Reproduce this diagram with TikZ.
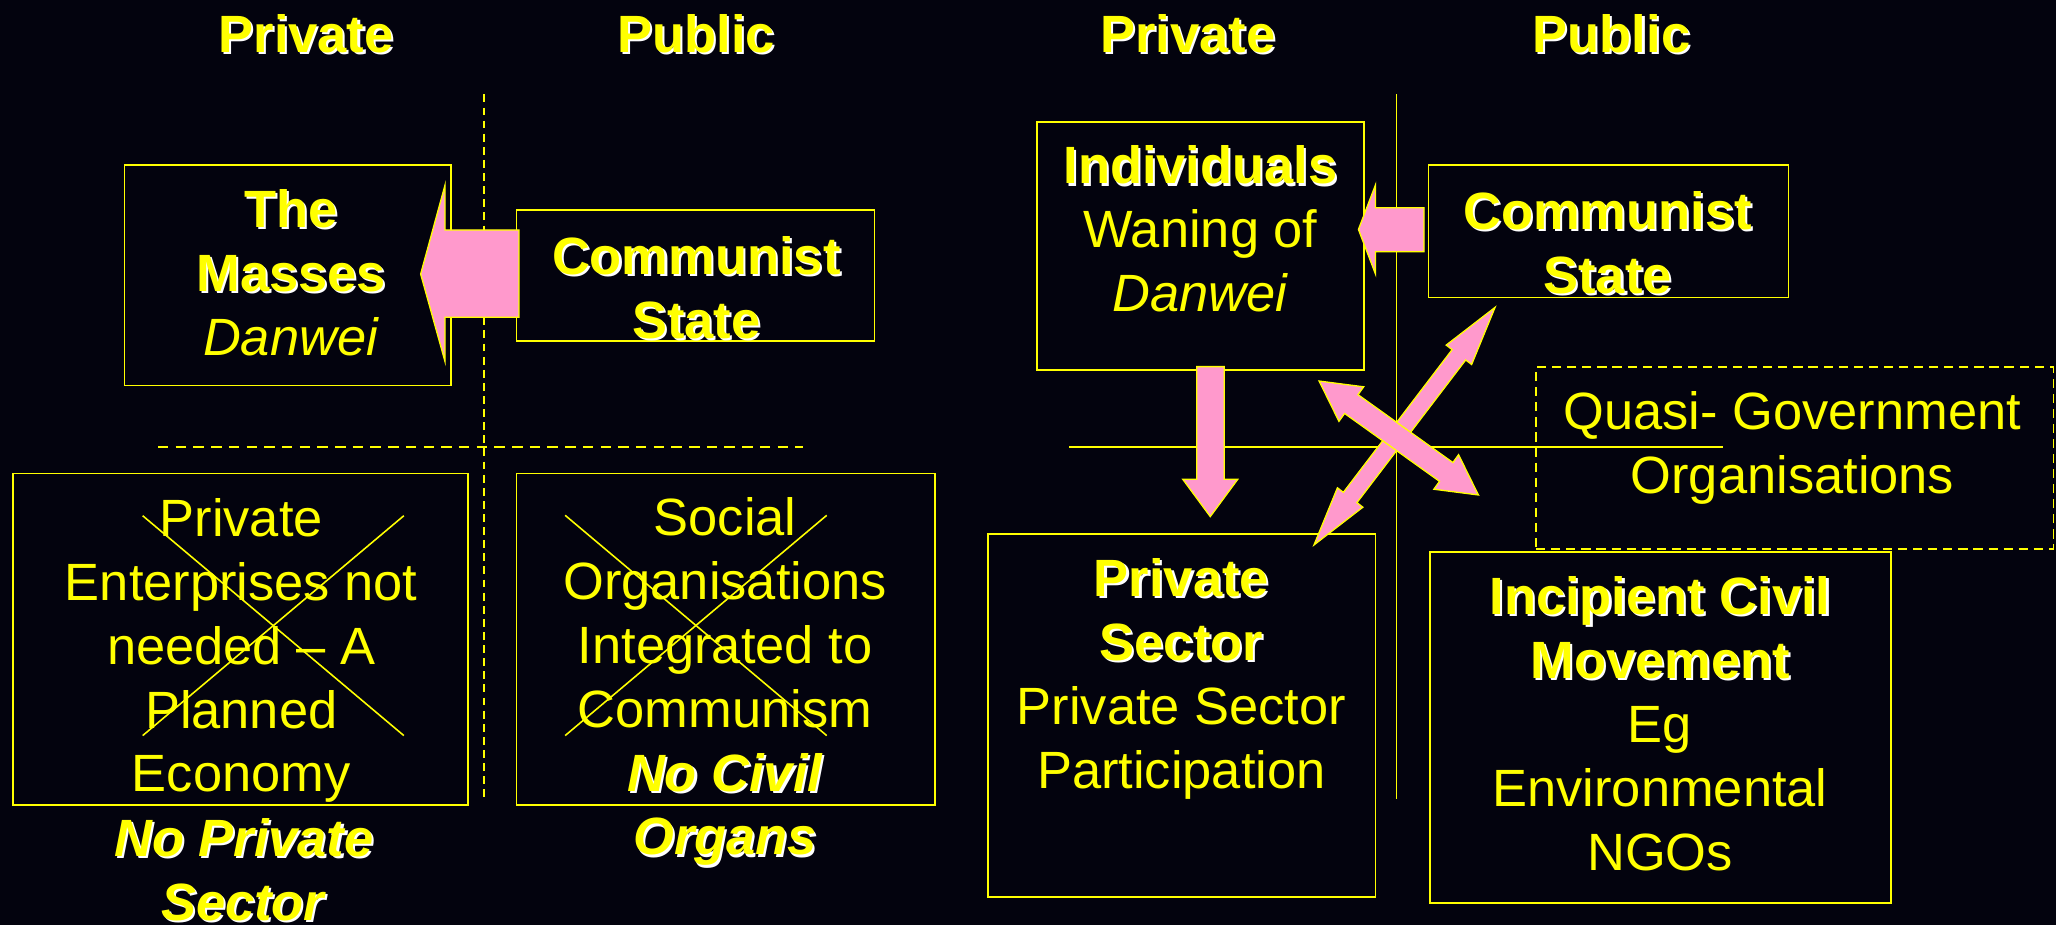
\documentclass[tikz,border=0pt]{standalone}
\usepackage{fontspec}
\setmainfont{Liberation Sans}
\usetikzlibrary{calc}
\definecolor{bg}{RGB}{3,3,14}
\definecolor{ylw}{RGB}{255,255,0}
\definecolor{pnk}{RGB}{255,153,204}
\newcommand\shd[1]{\leavevmode\rlap{\kern1.6pt\raisebox{-1.6pt}{\textcolor{white}{#1}}}#1}
\newcommand\bsh[1]{\shd{\textbf{#1}}}
\newcommand\bish[1]{\shd{\textbf{\textit{#1}}}}
% double-headed fat arrow: #1 start, #2 end, #3 shaft half width, #4 head half width, #5 head length
\newcommand\dblarrow[5]{%
  \path coordinate (da1) at ($(#1)!#5!(#2)$) coordinate (da2) at ($(#2)!#5!(#1)$);
  \filldraw[fatarrow] (#1) -- ($(da1)!#4!90:(#2)$) -- ($(da1)!#3!90:(#2)$) -- ($(da2)!#3!-90:(#1)$)
    -- ($(da2)!#4!-90:(#1)$) -- (#2) -- ($(da2)!#4!90:(#1)$) -- ($(da2)!#3!90:(#1)$)
    -- ($(da1)!#3!-90:(#2)$) -- ($(da1)!#4!-90:(#2)$) -- cycle;}
\begin{document}
\begin{tikzpicture}[x=1pt,y=-1pt,
  every node/.style={inner sep=0pt, text=ylw, font=\fontsize{40}{48.7}\selectfont},
  boxst/.style={draw=ylw, line width=1.3pt, minimum width=#1},
  txt/.style={align=center, anchor=base},
  hdr/.style={anchor=base},
  fatarrow/.style={fill=pnk, draw=ylw, line width=1pt, line join=miter},
  thin/.style={draw=ylw, line width=1.2pt},
  dsh/.style={draw=ylw, line width=1.2pt, dash pattern=on 7pt off 4.5pt}]
\useasboundingbox (0,0) rectangle (1568,705.45);
\fill[bg] (-2,-2) rectangle (1570,708);

% headers
\node[hdr] (h1) at (233.5,40) {\bsh{Private}};
\node[hdr] (h2) at (531,40) {\bsh{Public}};
\node[hdr] (h3) at (906,40) {\bsh{Private}};
\node[hdr] (h4) at (1229,40) {\bsh{Public}};

% axis lines
\coordinate (lv1) at (369,72); \coordinate (lv2) at (369,609);
\coordinate (lh1) at (120.5,340.7); \coordinate (lh2) at (612.6,340.7);
\coordinate (rv1) at (1065,72); \coordinate (rv2) at (1065,609);
\coordinate (rh1) at (815.6,341); \coordinate (rh2) at (1314,341);
\draw[dsh, dash pattern=on 6pt off 4pt] (lv1) -- (lv2);
\draw[dsh, dash pattern=on 8pt off 5.5pt] (lh1) -- (lh2);
\draw[thin] (rv1) -- (rv2);
\draw[thin] (rh1) -- (rh2);

% boxes
\node[boxst=249pt, minimum height=168pt] (masses) at (219.5,210) {};
\node[boxst=273pt, minimum height=100pt] (cstL) at (530.5,210) {};
\node[boxst=347pt, minimum height=253pt] (penter) at (183.5,487.5) {};
\node[boxst=319pt, minimum height=253pt] (social) at (553.5,487.5) {};
\node[boxst=249pt, minimum height=189pt] (indiv) at (915.5,187.5) {};
\node[boxst=274.5pt, minimum height=101pt] (cstR) at (1226.75,176.5) {};
\node[boxst=394.5pt, minimum height=138.7pt, dash pattern=on 7pt off 4.5pt] (quasi) at (1368.75,349.35) {};
\node[boxst=295.3pt, minimum height=277pt] (psec) at (901.35,545.5) {};
\node[boxst=351.5pt, minimum height=267.8pt] (incip) at (1266.25,554.9) {};

% texts
\node[txt] (tmasses) at (222,271) {\bsh{The}\\\bsh{Masses}\\\textit{Danwei}};
\node[txt] (tcstL) at (531,258) {\bsh{Communist}\\\bsh{State}};
\node[txt] (tpenter) at (184,604) {Private\\Enterprises not\\needed – A\\Planned\\Economy};
\node[txt] (tnopriv) at (186,701.7) {\bish{No Private}\\\bish{Sector}};
\node[txt] (tsocial) at (553,652) {Social\\Organisations\\Integrated to\\Communism\\\bish{No Civil}\\\bish{Organs}};
\node[txt] (tindiv) at (915.5,237.7) {\bsh{Individuals}\\Waning of\\\textit{Danwei}};
\node[txt] (tcstR) at (1226,223.7) {\bsh{Communist}\\\bsh{State}};
\node[txt] (tquasi) at (1367,376) {Quasi- Government\\Organisations};
\node[txt] (tpsec) at (901,601) {\bsh{Private}\\\bsh{Sector}\\Private Sector\\Participation};
\node[txt] (tincip) at (1266,663.5) {\bsh{Incipient Civil}\\\bsh{Movement}\\Eg\\Environmental\\NGOs};

% crosses
\draw[thin] (108.8,393.3) -- (308,561);
\draw[thin] (108.8,561) -- (308,393.3);
\draw[thin] (431,393) -- (630.5,561);
\draw[thin] (431,561) -- (630.5,393);

% fat arrows
\filldraw[fatarrow] (395.8,175.4) -- (339.4,175.4) -- (339.4,141.1) -- (320.8,209) -- (339.4,275.8) -- (339.4,242) -- (395.8,242) -- cycle;
\filldraw[fatarrow] (1086,158.4) -- (1049,158.4) -- (1049,141) -- (1036,175) -- (1049,209) -- (1049,192) -- (1086,192) -- cycle;
\filldraw[fatarrow] (912.7,279.6) -- (933.7,279.6) -- (933.7,365.5) -- (944,365.5) -- (923,394) -- (902,365.5) -- (912.7,365.5) -- cycle;

\coordinate (a1s) at (1140.2,234.4); \coordinate (a1e) at (1002.1,415.6);
\coordinate (a2s) at (1006,290.6); \coordinate (a2e) at (1127.5,377.5);
\dblarrow{a1s}{a1e}{6.5pt}{12.2pt}{45.5pt}
\dblarrow{a2s}{a2e}{8.8pt}{16.2pt}{30.2pt}
\end{tikzpicture}
\end{document}
